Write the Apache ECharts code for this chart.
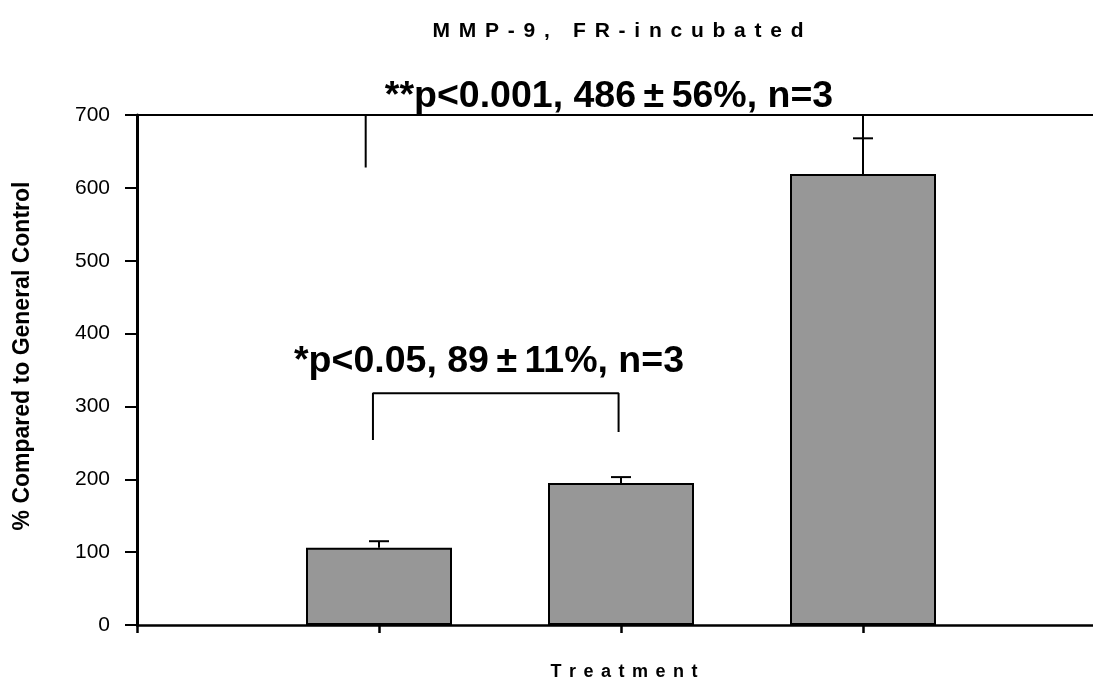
<!DOCTYPE html>
<html>
<head>
<meta charset="utf-8">
<script src="https://cdn.jsdelivr.net/npm/echarts@6/dist/echarts.min.js"></script>
<style>
  html, body { margin: 0; padding: 0; background: #fff; }
  #chart { width: 1093px; height: 685px; }
</style>
</head>
<body>
<div id="chart"></div>
<script>
// Chart texts
const titleText = 'MMP-9, FR-incubated';
const xAxisTitle = 'Treatment';
const yAxisTitle = '% Compared to General Control';
const sigLabelLow = '*p<0.05, 89\u2009\u00b1\u200911%, n=3';
const sigLabelHigh = '**p<0.001, 486\u2009\u00b1\u200956%, n=3';

// Treatment groups sit at positions 1..3 of the horizontal value axis
const groupPositions = [1, 2, 3];
const groupMeans = [106, 195, 619];
const groupErrors = [9, 8, 49];

// Value axis
const yMin = 0;
const yMax = 700;
const yStep = 100;

// Significance brackets: [position, value] vertices
const bracketLow = [[0.975, 254], [0.975, 318], [1.99, 318], [1.99, 265]];
const bracketHigh = [[0.945, 628], [0.945, 700], [3, 700], [3, 668]];

const FONT = "'Liberation Sans', Arial, sans-serif";

// wide letter spacing used by the title and axis caption
function spread(s) { return s.split('').join('\u2004\u200a'); }

const chart = echarts.init(document.getElementById('chart'), null, { renderer: 'canvas' });

const xMax = (1093 - 137) / 242;

const option = {
  animation: false,
  backgroundColor: '#ffffff',
  grid: { left: 137, right: 0, top: 115, bottom: 60, containLabel: false },
  xAxis: [
    {
      type: 'value', min: 0, max: xMax, interval: 1, position: 'bottom',
      axisLine: { show: true, onZero: false, lineStyle: { color: '#000', width: 2.5 } },
      axisTick: { show: true, inside: false, length: 8, customValues: [0, 1, 2, 3], lineStyle: { color: '#000', width: 2.5 } },
      axisLabel: { show: false },
      splitLine: { show: false }
    },
    {
      type: 'value', min: 0, max: xMax, position: 'top',
      axisLine: { show: true, onZero: false, lineStyle: { color: '#000', width: 2 } },
      axisTick: { show: false }, axisLabel: { show: false }, splitLine: { show: false }
    }
  ],
  yAxis: {
    type: 'value', min: yMin, max: yMax, interval: yStep,
    axisLine: { show: true, onZero: false, lineStyle: { color: '#000', width: 3 } },
    axisTick: { show: true, length: 12, lineStyle: { color: '#000', width: 2 } },
    axisLabel: { color: '#000', fontFamily: FONT, fontSize: 21, margin: 27 },
    splitLine: { show: false }
  },
  graphic: [
    { type: 'text', x: 618, y: 31, style: { text: spread(titleText), font: 'bold 21px ' + FONT, fill: '#000', textAlign: 'center', textVerticalAlign: 'middle' } },
    { type: 'text', x: 624, y: 672, style: { text: spread(xAxisTitle), font: 'bold 18px ' + FONT, fill: '#000', textAlign: 'center', textVerticalAlign: 'middle' } },
    { type: 'text', x: 23, y: 356, rotation: Math.PI / 2, style: { text: yAxisTitle, font: 'bold 23px ' + FONT, fill: '#000', textAlign: 'center', textVerticalAlign: 'middle' } },
    { type: 'text', x: 489, y: 362, style: { text: sigLabelLow, font: 'bold 37.5px ' + FONT, fill: '#000', textAlign: 'center', textVerticalAlign: 'middle' } },
    { type: 'text', x: 609, y: 97, style: { text: sigLabelHigh, font: 'bold 37.5px ' + FONT, fill: '#000', textAlign: 'center', textVerticalAlign: 'middle' } }
  ],
  series: [
    {
      type: 'bar',
      data: groupPositions.map((p, i) => [p, groupMeans[i]]),
      barWidth: 146,
      itemStyle: { color: '#979797', borderColor: '#000', borderWidth: 2 },
      z: 2
    },
    {
      // upper error bars with caps
      type: 'custom',
      data: groupPositions.map((p, i) => [p, groupMeans[i], groupErrors[i]]),
      renderItem: function (params, api) {
        const x = api.value(0);
        const base = api.coord([x, api.value(1)]);
        const top = api.coord([x, api.value(1) + api.value(2)]);
        const style = { stroke: '#000', lineWidth: 2 };
        return {
          type: 'group',
          children: [
            { type: 'line', shape: { x1: base[0], y1: base[1], x2: top[0], y2: top[1] }, style: style },
            { type: 'line', shape: { x1: top[0] - 10, y1: top[1], x2: top[0] + 10, y2: top[1] }, style: style }
          ]
        };
      },
      z: 3
    },
    {
      type: 'line', data: bracketLow, symbol: 'none', silent: true,
      lineStyle: { color: '#000', width: 2 }, clip: false, z: 4
    },
    {
      type: 'line', data: bracketHigh, symbol: 'none', silent: true,
      lineStyle: { color: '#000', width: 2 }, clip: false, z: 4
    }
  ]
};

chart.setOption(option);
</script>
</body>
</html>
